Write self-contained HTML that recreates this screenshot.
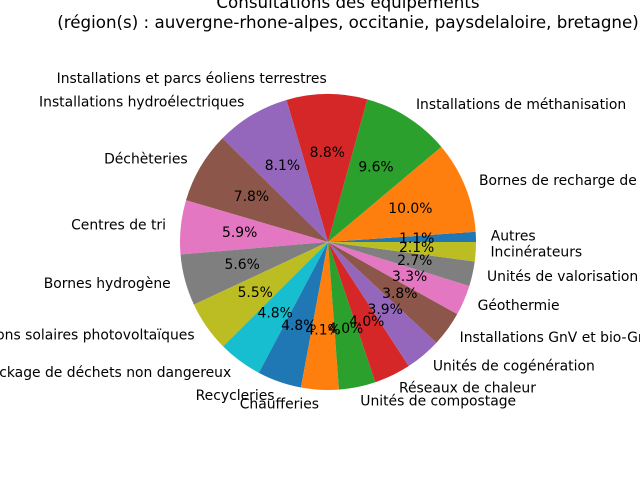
<!DOCTYPE html>
<html><head><meta charset="utf-8"><style>
body{margin:0;background:#fff}
svg{display:block;font-family:"DejaVu Sans","Liberation Sans",sans-serif}
</style></head><body>
<svg id="chart" width="640" height="480">
<text x="348" y="8" text-anchor="middle" font-size="16.7">Consultations des équipements</text>
<text x="348" y="28" text-anchor="middle" font-size="16.7">(région(s) : auvergne-rhone-alpes, occitanie, paysdelaloire, bretagne)</text>
<g id="slices"></g><g id="labels"></g>
</svg>
<script>
const categories=["Autres","Bornes de recharge de","Installations de méthanisation","Installations et parcs éoliens terrestres","Installations hydroélectriques","Déchèteries","Centres de tri","Bornes hydrogène","Installations solaires photovoltaïques","Stockage de déchets non dangereux","Recycleries","Chaufferies","Unités de compostage","Réseaux de chaleur","Unités de cogénération","Installations GnV et bio-GnV","Géothermie","Unités de valorisation","Incinérateurs"];
const values=[1.1,10.0,9.6,8.8,8.1,7.8,5.9,5.6,5.5,4.8,4.8,4.1,4.0,4.0,3.9,3.8,3.3,2.7,2.1];
const colors=["#1f77b4","#ff7f0e","#2ca02c","#d62728","#9467bd","#8c564b","#e377c2","#7f7f7f","#bcbd22","#17becf"];
const cx=328,cy=242,r=148,NS="http://www.w3.org/2000/svg";
const total=values.reduce((a,b)=>a+b,0);
const gS=document.getElementById('slices'),gL=document.getElementById('labels');
let a0=0;
values.forEach((v,i)=>{
  const a1=a0+v/total*2*Math.PI;
  const x0=cx+r*Math.cos(a0),y0=cy-r*Math.sin(a0),x1=cx+r*Math.cos(a1),y1=cy-r*Math.sin(a1);
  const p=document.createElementNS(NS,'path');
  p.setAttribute('d',`M${cx},${cy}L${x0},${y0}A${r},${r} 0 ${(a1-a0)>Math.PI?1:0} 0 ${x1},${y1}Z`);
  p.setAttribute('fill',colors[i%10]);
  
  
  gS.appendChild(p);
  const am=(a0+a1)/2,c=Math.cos(am),s=Math.sin(am);
  const t=document.createElementNS(NS,'text');
  t.setAttribute('x',cx+1.1*r*c);t.setAttribute('y',cy-1.1*r*s);
  t.setAttribute('text-anchor',c>=0?'start':'end');t.setAttribute('dominant-baseline','central');
  t.setAttribute('font-size','13.9');t.textContent=categories[i];
  
  
  gL.appendChild(t);
  const q=document.createElementNS(NS,'text');
  q.setAttribute('x',cx+0.6*r*c);q.setAttribute('y',cy-0.6*r*s);
  q.setAttribute('text-anchor','middle');q.setAttribute('dominant-baseline','central');
  q.setAttribute('font-size','13.9');q.textContent=v.toFixed(1)+'%';
  
  
  gL.appendChild(q);
  a0=a1;
});
</script>
</body></html>
